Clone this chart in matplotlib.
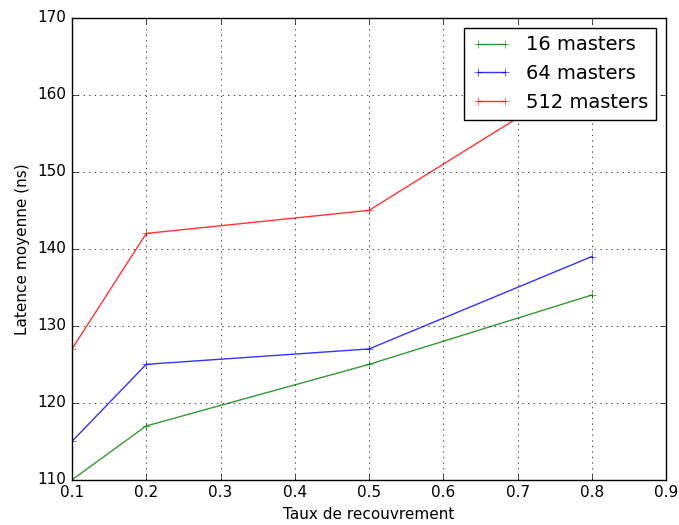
#!/usr/bin/env python3

import matplotlib
matplotlib.use('Agg')
import matplotlib.pyplot as plt

plt.style.use('classic')

# recovery rates (x) and mean latency (ns) per config
taux = [0.1, 0.2, 0.5, 0.8]
lat_16 = [110, 117, 125, 134]
lat_64 = [115, 125, 127, 139]
lat_512 = [127, 142, 145, 163]

labels = ['16 masters', '64 masters', '512 masters']
colors = ['green', 'blue', 'red']

fig = plt.figure(figsize=(6.79, 5.25), dpi=100, facecolor='white')
ax = fig.add_axes([0.106, 0.086, 0.875, 0.88])

for ys, lab, c in zip([lat_16, lat_64, lat_512], labels, colors):
    ax.plot(taux, ys, color=c, marker='+', markersize=6, label=lab, alpha=0.8)

ax.set_xlim(0.1, 0.9)
ax.set_ylim(110, 170)
ax.grid(True)
ax.set_xlabel('Taux de recouvrement', fontsize=11)
ax.set_ylabel('Latence moyenne (ns)', fontsize=11)
ax.tick_params(labelsize=11)
ax.legend(loc='upper right', fontsize=14, numpoints=2)

fig.savefig('out.png', dpi=100, facecolor='white')
